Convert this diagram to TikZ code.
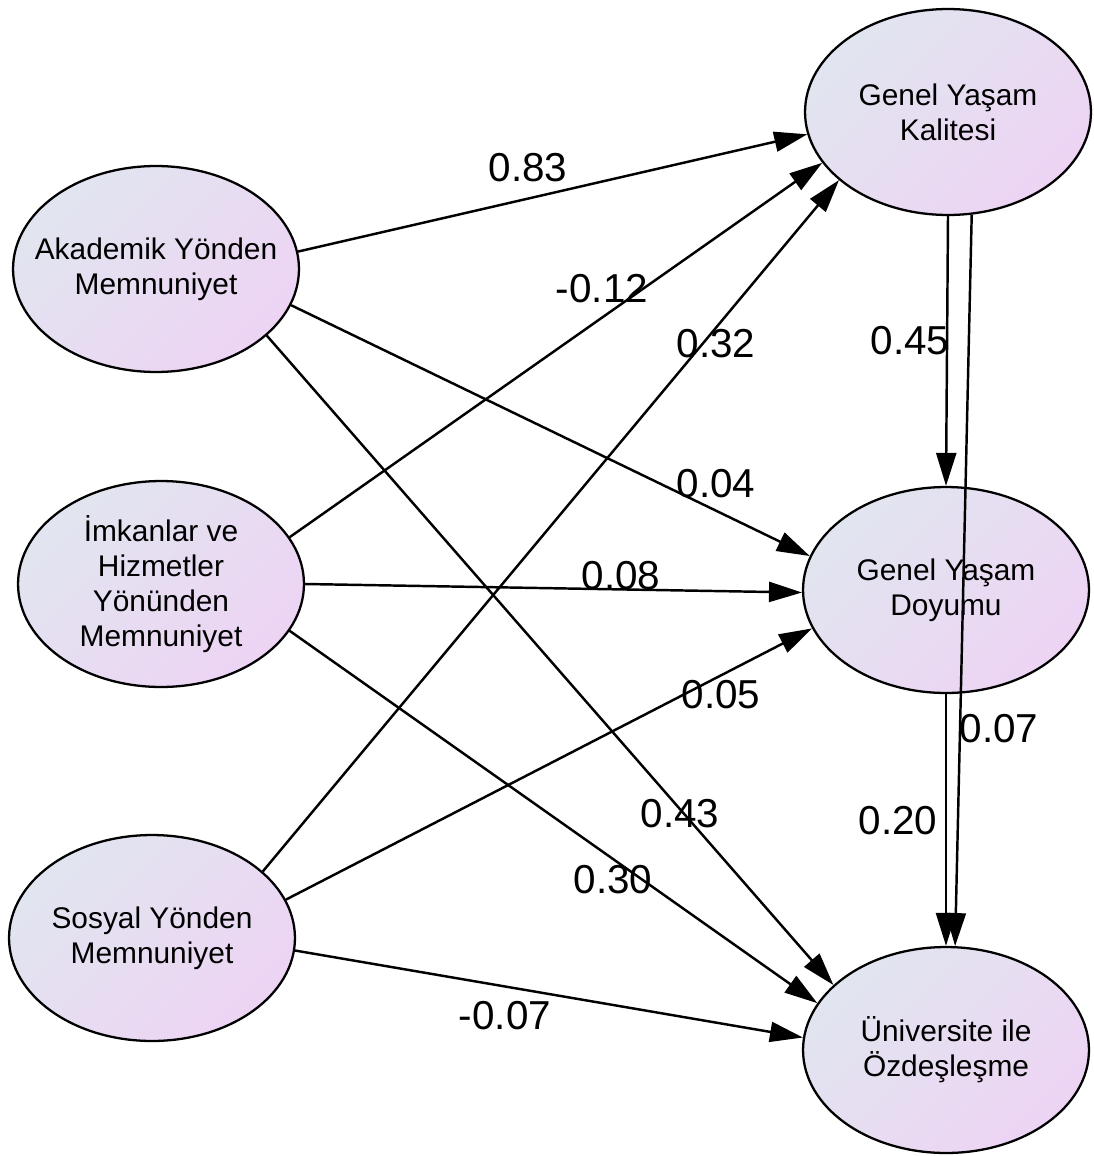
\documentclass[tikz,border=0pt]{standalone}
\usepackage{fontspec}
\setmainfont{Liberation Sans}
\usetikzlibrary{shapes.geometric,arrows.meta}
\definecolor{latentA}{RGB}{225,229,239}
\definecolor{latentB}{RGB}{237,212,244}
\begin{document}
\begin{tikzpicture}[x=0.02cm,y=-0.02cm,
  latent/.style={ellipse,draw,line width=1.3pt,minimum width=5.72cm,minimum height=4.12cm,inner sep=0pt,
    top color=latentA,bottom color=latentB,shading angle=45},
  lname/.style={align=center,inner sep=0pt,font=\fontsize{17}{20}\selectfont},
  effect/.style={-{Triangle[length=0.66cm,width=0.4cm]},line width=1.4pt},
  coef/.style={font=\fontsize{23}{26}\selectfont,inner sep=0pt}]

\useasboundingbox (0,0) rectangle (1093,1156);

% latent variables
\node[latent] (akad) at (156,269) {};
\node[latent] (imkan) at (161,584) {};
\node[latent] (sosyal) at (152,938) {};
\node[latent] (gyk) at (948,112) {};
\node[latent] (gyd) at (946,590) {};
\node[latent] (uni) at (946,1050) {};

\node[lname] (akadtxt) at (akad.center) {Akademik Yönden\\Memnuniyet};
\node[lname] (imkantxt) at (imkan.center) {İmkanlar ve\\Hizmetler\\Yönünden\\Memnuniyet};
\node[lname] (sosyaltxt) at (sosyal.center) {Sosyal Yönden\\Memnuniyet};
\node[lname] (gyktxt) at (gyk.center) {Genel Yaşam\\Kalitesi};
\node[lname] (gydtxt) at (gyd.center) {Genel Yaşam\\Doyumu};
\node[lname] (unitxt) at (uni.center) {Üniversite ile\\Özdeşleşme};

% paths
\draw[effect] (akad.7) -- (gyk.189);
\draw[effect] (imkan.20) -- (gyk.202);
\draw[effect] (sosyal.31) -- (gyk.212);
\draw[effect] (akad.345) -- (gyd.166);
\draw[effect] (imkan.0) -- (gyd.181);
\draw[effect] (sosyal.16) -- (gyd.196);
\draw[effect] (akad.329) -- (uni.150);
\draw[effect] (imkan.340) -- (uni.160);
\draw[effect] (sosyal.355) -- (uni.175);
\draw[effect] (gyk.south) -- (gyd.north);
\draw[effect] (gyk.283) -- (uni.85);
\draw[effect] (gyd.south) -- (uni.north);

% coefficients
\node[coef] (c1) at (528,168) {0.83};
\node[coef] (c2) at (602,289) {-0.12};
\node[coef] (c3) at (716,344) {0.32};
\node[coef] (c4) at (716,484) {0.04};
\node[coef] (c5) at (621,576) {0.08};
\node[coef] (c6) at (721,695) {0.05};
\node[coef] (c7) at (680,814) {0.43};
\node[coef] (c8) at (613,880) {0.30};
\node[coef] (c9) at (505,1016) {-0.07};
\node[coef] (c10) at (910,341) {0.45};
\node[coef] (c11) at (999,729) {0.07};
\node[coef] (c12) at (898,821) {0.20};

\end{tikzpicture}
\end{document}
